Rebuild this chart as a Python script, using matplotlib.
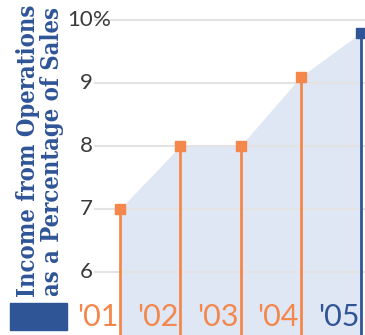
import matplotlib.pyplot as plt
import numpy as np

years = [2001, 2002, 2003, 2004, 2005]
values = [7.0, 8.0, 8.0, 9.1, 9.8]
year_labels = ["'01", "'02", "'03", "'04", "'05"]
y_ticks = [6, 7, 8, 9, 10]
y_tick_labels = ["6", "7", "8", "9", "10%"]

orange = "#f4874b"
blue = "#2f5597"
fill_col = "#dfe6f4"

fig = plt.figure(figsize=(3.65, 3.35), dpi=100)
ax = fig.add_axes([0, 0, 1, 1])
x0, x1 = 1999.008, 2005.066
y0, y1 = 5.0, 10.317
ax.set_xlim(x0, x1)
ax.set_ylim(y0, y1)
ax.axis("off")

# gridlines
for t in y_ticks:
    ax.axhline(t, xmin=95 / 365, xmax=1, color="#e3e3e3", lw=1.5, zorder=1)
for t, lab in zip(y_ticks, y_tick_labels):
    ax.text(x0 + 93 / 60.25, t, lab.replace("%", ""), ha="right", va="center",
            fontsize=16, color="#3a3a3a", family="Lato", zorder=3)
    if lab.endswith("%"):
        ax.text(x0 + 93 / 60.25, t, "%", ha="left", va="center",
                fontsize=16, color="#3a3a3a", family="Lato", zorder=3)

# area
ax.fill_between(years, values, y0, color=fill_col, lw=0, zorder=0)

# stems and markers
for i, (yr, v) in enumerate(zip(years, values)):
    c = blue if i == len(years) - 1 else orange
    ax.vlines(yr, y0, v, color=c, lw=2, zorder=4)
    ax.plot(yr, v, marker="s", ms=7, color=c, zorder=5)
    ax.text(yr - 0.03, y0 + 0.07, year_labels[i], ha="right", va="bottom",
            fontsize=22, color=c, family="Lato", zorder=3)

# axis title
fig.text(40 / 365, 1 - 151 / 335, "Income from Operations\nas a Percentage of Sales",
         rotation=90, ha="center", va="center", fontsize=17, color=blue,
         family="DejaVu Serif", fontstretch="condensed", fontweight="bold",
         linespacing=1.0)
fig.patches.append(plt.Rectangle((10 / 365, 5 / 335), 57 / 365, 27 / 335,
                                 transform=fig.transFigure, color=blue))

fig.savefig("out.png", dpi=100)
